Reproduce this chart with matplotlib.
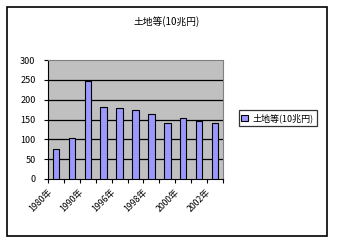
import matplotlib
matplotlib.use('Agg')
import matplotlib.pyplot as plt
import matplotlib.transforms as mtransforms
from matplotlib.patches import Rectangle
import numpy as np

plt.rcParams['font.family'] = ['Noto Sans CJK JP', 'DejaVu Sans']

# データ
years = ['1980年', '1985年', '1990年', '1995年', '1996年', '1997年',
         '1998年', '1999年', '2000年', '2001年', '2002年']
values = [75, 103, 248, 182, 180, 175, 163, 140, 155, 145, 140]
title = '土地等(10兆円)'
yticks = [0, 50, 100, 150, 200, 250, 300]

W, H = 338, 245
fig = plt.figure(figsize=(W / 100, H / 100), dpi=100)
fig.patch.set_facecolor('white')

# 外枠
fig.patches.append(Rectangle((7 / W, 1 - 236 / H), 320 / W, 229 / H,
                             transform=fig.transFigure, fill=False,
                             edgecolor='black', linewidth=1.2))

ax = fig.add_axes([48 / W, 1 - 179 / H, 175 / W, 119 / H])
ax.set_facecolor('#C0C0C0')

x = np.arange(len(years))
ax.bar(x, values, width=0.4, color='#9999FF', edgecolor='black',
       linewidth=0.8, label=title, zorder=3)

ax.set_xlim(-0.5, len(years) - 0.5)
ax.set_ylim(0, 300)
ax.set_yticks(yticks)
ax.set_yticklabels([str(v) for v in yticks], fontsize=6.5)
for v in yticks[1:-1]:
    ax.axhline(v, color='black', linewidth=0.9, zorder=1)

# 目盛り（カテゴリ境界）
ax.set_xticks(np.arange(-0.5, len(years), 1), minor=True)
ax.tick_params(axis='x', which='minor', length=3, width=0.8, direction='out')
ax.set_xticks(x[::2])
ax.set_xticklabels(years[::2], rotation=45, ha='right', va='top',
                   rotation_mode='anchor', fontsize=6.3)
ax.tick_params(axis='x', which='major', length=0, pad=6)
offset = mtransforms.ScaledTranslation(-9 / 100, 0, fig.dpi_scale_trans)
for lbl in ax.get_xticklabels():
    lbl.set_transform(lbl.get_transform() + offset)
ax.tick_params(axis='y', length=3, width=0.8, direction='out', pad=6)

for side in ['top', 'right']:
    ax.spines[side].set_color('#808080')
for side in ['left', 'bottom']:
    ax.spines[side].set_color('black')

fig.text(167 / W, 1 - 22 / H, title, ha='center', va='center', fontsize=7)

leg = ax.legend(loc='center left', bbox_to_anchor=(234 / W, 1 - 118 / H),
                bbox_transform=fig.transFigure, fontsize=6.5, frameon=True,
                fancybox=False, handlelength=0.7, handleheight=0.7,
                handletextpad=0.6, borderpad=0.3)
leg.get_frame().set_edgecolor('black')
leg.get_frame().set_linewidth(0.9)

fig.savefig('out.png', dpi=100)
